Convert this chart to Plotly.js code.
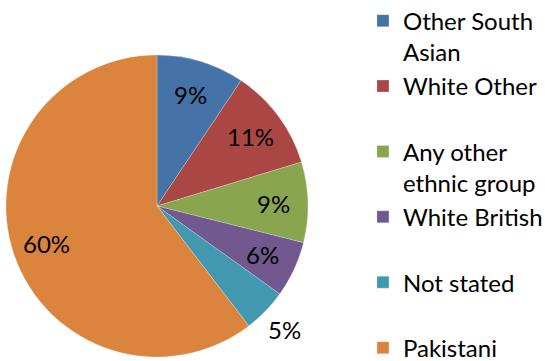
<!DOCTYPE html>
<html>
<head>
<meta charset="utf-8">
<script src="https://cdn.plot.ly/plotly-3.0.1.min.js"></script>
<style>html,body{margin:0;padding:0;background:#fff;}#chart{width:545px;height:361px;}</style>
</head>
<body>
<div id="chart"></div>
<script>
// Data
const categories = ["Other South Asian", "White Other", "Any other ethnic group", "White British", "Not stated", "Pakistani"];
const legendLabels = ["Other South<br>Asian", "White Other<br>\u00a0", "Any other<br>ethnic group", "White British<br>\u00a0", "Not stated<br>\u00a0", "Pakistani"];
const shares = [9.4, 10.9, 8.6, 6.0, 4.7, 60.4];
const colors = ["#4572A7", "#AA4643", "#89A54E", "#71588F", "#4198AF", "#DB843D"];
const labelOutside = [false, false, false, false, true, false];

const trace = {
  type: "pie",
  labels: legendLabels,
  values: shares,
  customdata: categories,
  sort: false,
  direction: "clockwise",
  rotation: 0,
  marker: {colors: colors, line: {color: "rgba(255,255,255,0.4)", width: 0.6}},
  textinfo: "none",
  hoverinfo: "none",
  domain: {x: [0, 1], y: [0, 1]}
};

// Percentage labels placed along each slice's mid-angle (derived from the data)
const total = shares.reduce((a, b) => a + b, 0);
const annotations = [];
let cum = 0;
shares.forEach((v, i) => {
  const mid = (cum + v / 2) / total * 2 * Math.PI;
  cum += v;
  const rf = labelOutside[i] ? 1.18 : 0.77;
  annotations.push({
    xref: "paper", yref: "paper",
    x: 0.5 + 0.5 * rf * Math.sin(mid),
    y: 0.5 + 0.5 * rf * Math.cos(mid),
    text: Math.round(v / total * 100) + "%",
    showarrow: false,
    xanchor: "center", yanchor: "middle",
    font: {family: "Lato, sans-serif", size: 24, color: "#000"}
  });
});

const layout = {
  width: 545,
  height: 361,
  margin: {l: 6, r: 237, t: 55, b: 4, autoexpand: false},
  paper_bgcolor: "#fff",
  plot_bgcolor: "#fff",
  showlegend: true,
  legend: {
    x: 1.182, xanchor: "left",
    y: 1.187, yanchor: "top",
    valign: "top",
    maxheight: 600,
    font: {family: "Lato, sans-serif", size: 24, color: "#000"},
    bgcolor: "rgba(0,0,0,0)",
    borderwidth: 0
  },
  annotations: annotations,
  font: {family: "Lato, sans-serif"}
};

Plotly.newPlot("chart", [trace], layout, {displayModeBar: false, staticPlot: true});
</script>
</body>
</html>
